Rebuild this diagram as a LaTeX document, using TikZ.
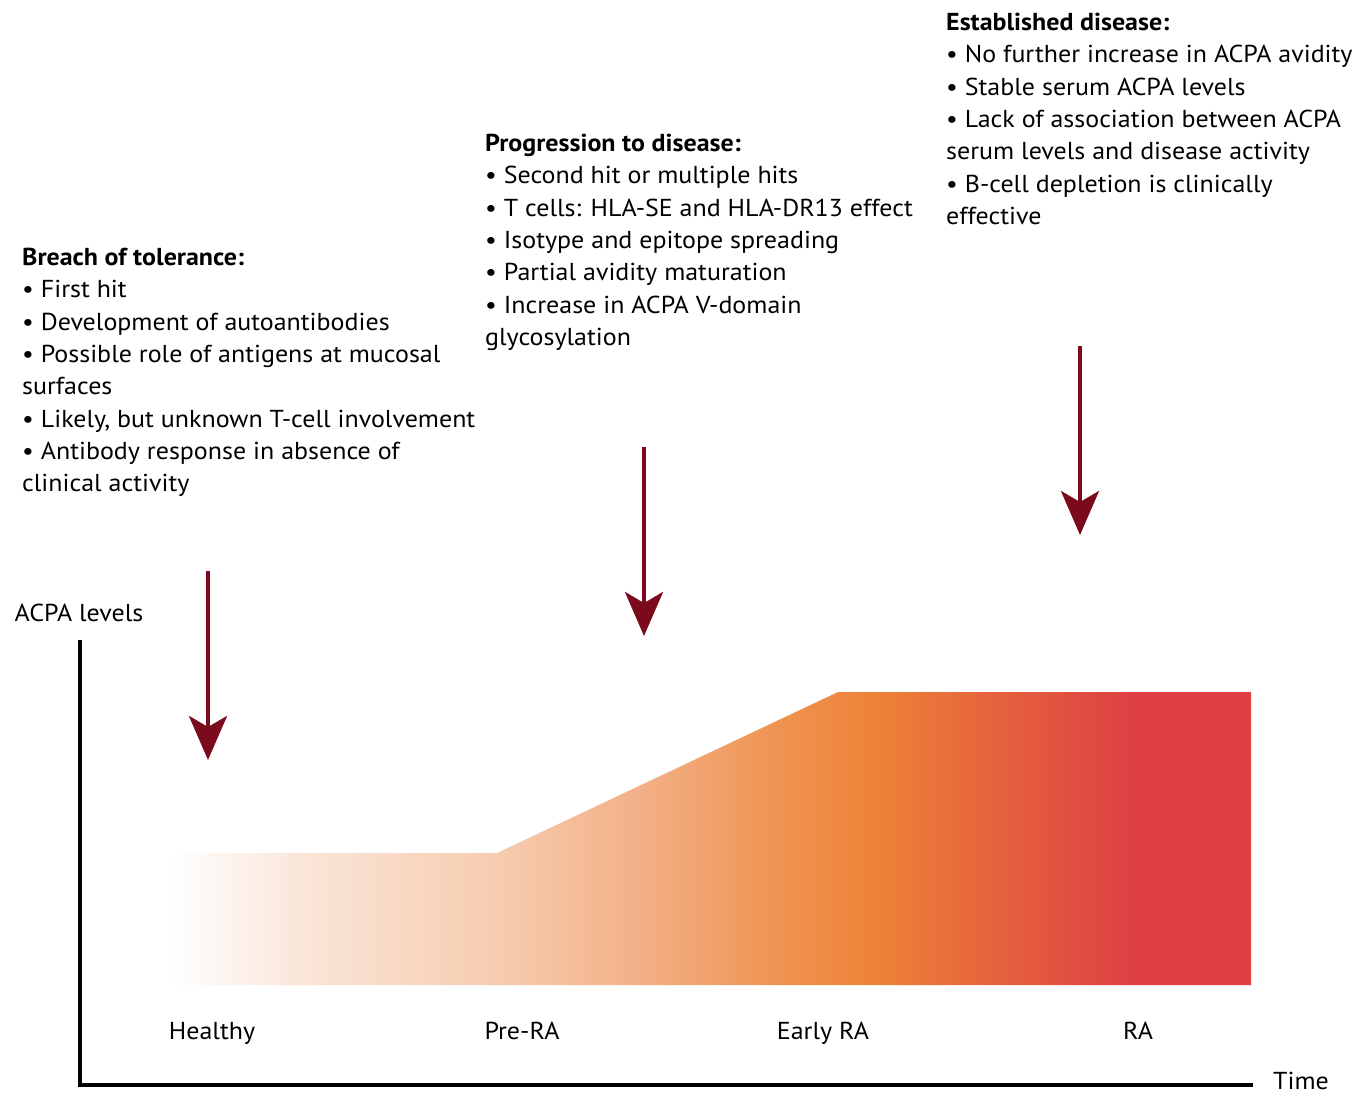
\documentclass[tikz,border=0pt]{standalone}
\usepackage{fontspec}
\setmainfont{PT Sans}[FakeStretch=1.06]
\usetikzlibrary{arrows.meta}

% palette
\definecolor{arrowred}{RGB}{122,10,28}
\definecolor{grA}{HTML}{FAE6D9}
\definecolor{grB}{HTML}{F6CCAF}
\definecolor{grC}{HTML}{F2B086}
\definecolor{grD}{HTML}{EF9452}
\definecolor{grE}{HTML}{EE8236}
\definecolor{grF}{HTML}{E5613E}
\definecolor{grG}{HTML}{DE4043}

% left-to-right colour ramp of the ACPA level band (path box = 25bp..75bp)
\pgfdeclarehorizontalshading{acpashade}{100bp}{%
  color(0bp)=(white); color(25bp)=(white);
  color(31bp)=(grA); color(40.1bp)=(grB); color(46.8bp)=(grC);
  color(53bp)=(grD); color(57.7bp)=(grE); color(63.4bp)=(grF);
  color(69.5bp)=(grG); color(75bp)=(grG); color(100bp)=(grG)}

\tikzset{
  txt/.style={anchor=north west, align=left, inner sep=0pt,
    font=\fontsize{24.5}{32.3}\selectfont},
  lbl/.style={anchor=base, inner sep=0pt, font=\fontsize{24.5}{30}\selectfont},
  phasearrow/.style={draw=arrowred, line width=4pt,
    -{Stealth[length=44pt,width=38pt,inset=11pt]}},
  axisline/.style={draw=black, line width=4pt, line join=miter},
}

\begin{document}
\begin{tikzpicture}[x=1pt,y=-1pt]
\useasboundingbox (0,0) rectangle (1362,1096);

% level band
\shade[shading=acpashade] (170,853) -- (497,853) -- (838,692) -- (1251,692)
  -- (1251,985) -- (170,985) -- cycle;

% axes
\coordinate (ytop) at (80,640);
\coordinate (origin) at (80,1085);
\coordinate (xend) at (1253,1085);
\draw[axisline] (ytop) -- (origin) -- (xend);
\node[lbl] (ylab) at (79,621) {ACPA levels};
\node[lbl, anchor=base west] (xlab) at (1273,1089) {Time};

% stages
\node[lbl] (healthy) at (212,1039) {Healthy};
\node[lbl] (prera) at (522,1039) {Pre-RA};
\node[lbl] (earlyra) at (823,1039) {Early RA};
\node[lbl] (ra) at (1138,1039) {RA};

% phase descriptions
\node[txt] (breach) at (22,248) {\textbf{Breach of tolerance:}\\
• First hit\\
• Development of autoantibodies\\
• Possible role of antigens at mucosal\\
surfaces\\
• Likely, but unknown T-cell involvement\\
• Antibody response in absence of\\
clinical activity};

\node[txt] (progress) at (485,134) {\textbf{Progression to disease:}\\
• Second hit or multiple hits\\
• T cells: HLA-SE and HLA-DR13 effect\\
• Isotype and epitope spreading\\
• Partial avidity maturation\\
• Increase in ACPA V-domain\\
glycosylation};

\node[txt] (established) at (946,13) {\textbf{Established disease:}\\
• No further increase in ACPA avidity\\
• Stable serum ACPA levels\\
• Lack of association between ACPA\\
serum levels and disease activity\\
• B-cell depletion is clinically\\
effective};

% phase markers
\coordinate (a1s) at (208,571); \coordinate (a1e) at (208,760);
\coordinate (a2s) at (644,447); \coordinate (a2e) at (644,636);
\coordinate (a3s) at (1080,346); \coordinate (a3e) at (1080,535);
\draw[phasearrow] (a1s) -- (a1e);
\draw[phasearrow] (a2s) -- (a2e);
\draw[phasearrow] (a3s) -- (a3e);
\end{tikzpicture}
\end{document}
